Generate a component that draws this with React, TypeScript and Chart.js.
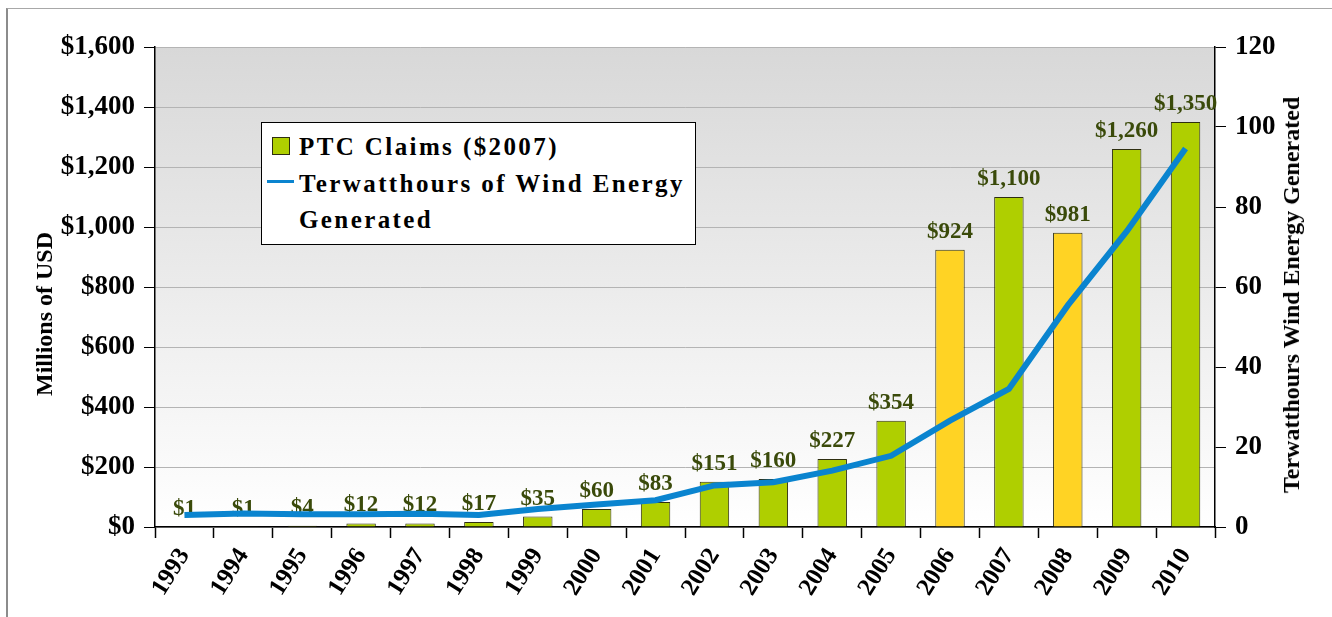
import React, { useEffect, useRef } from "react";
import { Chart, registerables } from "chart.js";

Chart.register(...registerables);

// ---------- data ----------
const years = [
  "1993", "1994", "1995", "1996", "1997", "1998", "1999", "2000", "2001",
  "2002", "2003", "2004", "2005", "2006", "2007", "2008", "2009", "2010",
];
const ptcClaims = [1, 1, 4, 12, 12, 17, 35, 60, 83, 151, 160, 227, 354, 924, 1100, 981, 1260, 1350];
const windTWh = [3.0, 3.4, 3.2, 3.2, 3.3, 3.0, 4.5, 5.6, 6.7, 10.4, 11.2, 14.1, 17.8, 26.6, 34.5, 55.4, 73.9, 94.6];
const highlightYears = ["2006", "2008"];

const barLabel = "PTC Claims ($2007)";
const lineLabel = "Terwatthours of Wind Energy Generated";
const leftTitle = "Millions of USD";
const rightTitle = "Terwatthours Wind Energy Generated";

const leftMax = 1600;
const leftStep = 200;
const rightMax = 120;
const rightStep = 20;

// ---------- styles ----------
const FONT = '"Liberation Serif", "Times New Roman", serif';
const GREEN = "#afcf00";
const YELLOW = "#ffd324";
const BLUE = "#0a84cf";
const LABEL_COLOR = "#3a4a0a";

const fmtUSD = (v: number) => "$" + Number(v).toLocaleString("en-US");

export default function App() {
  const canvasRef = useRef<HTMLCanvasElement | null>(null);

  useEffect(() => {
    const canvas = canvasRef.current;
    if (!canvas) return;

    const bgPlugin = {
      id: "plotBg",
      beforeDraw(chart: any) {
        const { ctx, chartArea } = chart;
        if (!chartArea) return;
        const g = ctx.createLinearGradient(0, chartArea.top, 0, chartArea.bottom);
        g.addColorStop(0, "#d8d8d8");
        g.addColorStop(1, "#ffffff");
        ctx.save();
        ctx.fillStyle = g;
        ctx.fillRect(chartArea.left, chartArea.top, chartArea.right - chartArea.left, chartArea.bottom - chartArea.top);
        ctx.restore();
      },
    };

    const labelPlugin = {
      id: "barLabels",
      afterDatasetDraw(chart: any, args: any) {
        if (args.index !== 1) return;
        const { ctx } = chart;
        const meta = chart.getDatasetMeta(1);
        ctx.save();
        ctx.font = `bold 23px ${FONT}`;
        ctx.fillStyle = LABEL_COLOR;
        ctx.textAlign = "center";
        ctx.textBaseline = "alphabetic";
        meta.data.forEach((el: any, i: number) => {
          ctx.fillText(fmtUSD(ptcClaims[i]), el.x, el.y - 12);
        });
        ctx.restore();
      },
    };

    const tickFont = { family: FONT, size: 27, weight: "bold" as const };

    const chart = new Chart(canvas, {
      type: "bar",
      data: {
        labels: years,
        datasets: [
          {
            type: "line" as const,
            label: lineLabel,
            data: windTWh,
            yAxisID: "y1",
            borderColor: BLUE,
            backgroundColor: BLUE,
            borderWidth: 6,
            pointRadius: 0,
            tension: 0,
            order: 0,
          },
          {
            type: "bar" as const,
            label: barLabel,
            data: ptcClaims,
            yAxisID: "y",
            backgroundColor: years.map((y) => (highlightYears.includes(y) ? YELLOW : GREEN)),
            borderColor: "#2e2e10",
            borderWidth: 1,
            barPercentage: 0.5,
            categoryPercentage: 1,
            order: 1,
          },
        ],
      },
      options: {
        responsive: false,
        animation: false,
        layout: { padding: { top: 47, left: 0, right: 0, bottom: 0 } },
        plugins: {
          legend: { display: false },
          tooltip: { enabled: false },
        },
        scales: {
          x: {
            grid: {
              offset: true,
              drawOnChartArea: false,
              tickLength: 11,
              tickColor: "#000",
              tickWidth: 1.5,
            },
            border: { color: "#000", width: 1.5 },
            ticks: {
              color: "#000",
              font: { family: FONT, size: 25, weight: "bold" },
              minRotation: 58,
              maxRotation: 58,
              autoSkip: false,
              padding: 5,
            },
            afterFit: (s: any) => {
              s.height = 90;
            },
          },
          y: {
            position: "left",
            min: 0,
            max: leftMax,
            ticks: {
              stepSize: leftStep,
              color: "#000",
              font: tickFont,
              padding: 9,
              callback: (v: any) => fmtUSD(v),
            },
            grid: { color: "#b4b4b4", tickColor: "#000", tickLength: 11, lineWidth: 1 },
            border: { color: "#000", width: 1.5 },
            afterFit: (s: any) => {
              s.width = 155;
            },
          },
          y1: {
            position: "right",
            min: 0,
            max: rightMax,
            ticks: {
              stepSize: rightStep,
              color: "#000",
              font: tickFont,
              padding: 9,
            },
            grid: { drawOnChartArea: false, tickColor: "#000", tickLength: 11 },
            border: { color: "#000", width: 1.5 },
            afterFit: (s: any) => {
              s.width = 117;
            },
          },
        },
      } as any,
      plugins: [bgPlugin, labelPlugin],
    });

    return () => chart.destroy();
  }, []);

  const titleStyle: React.CSSProperties = {
    position: "absolute",
    fontFamily: FONT,
    fontWeight: "bold",
    fontSize: 24,
    whiteSpace: "nowrap",
    color: "#000",
    transform: "translate(-50%, -50%) rotate(-90deg)",
    lineHeight: "26px",
  };

  const legendText: React.CSSProperties = {
    position: "absolute",
    left: 299,
    fontFamily: FONT,
    fontWeight: "bold",
    fontSize: 25,
    letterSpacing: "2.4px",
    color: "#000",
  };

  return (
    <div
      style={{
        position: "fixed",
        left: 0,
        top: 0,
        width: 1332,
        height: 617,
        background: "#fff",
        overflow: "hidden",
      }}
    >
      <div
        style={{
          position: "absolute",
          left: 6,
          top: 8,
          width: 1400,
          height: 700,
          borderLeft: "2px solid #8c8c8c",
          borderTop: "1px solid #a8a8a8",
        }}
      />
      <canvas
        ref={canvasRef}
        width={1332}
        height={617}
        style={{ position: "absolute", left: 0, top: 0, width: 1332, height: 617, display: "block" }}
      />
      <div style={{ ...titleStyle, left: 44, top: 314 }}>{leftTitle}</div>
      <div style={{ ...titleStyle, left: 1291, top: 295 }}>{rightTitle}</div>

      <div
        style={{
          position: "absolute",
          left: 261,
          top: 122,
          width: 435,
          height: 123,
          background: "#fff",
          border: "1px solid #000",
          boxSizing: "border-box",
        }}
      />
      <div
        style={{
          position: "absolute",
          left: 272,
          top: 137,
          width: 18,
          height: 18,
          background: GREEN,
          border: "1px solid #2e2e10",
          boxSizing: "border-box",
        }}
      />
      <div style={{ ...legendText, top: 134, lineHeight: "25px" }}>{barLabel}</div>
      <div
        style={{
          position: "absolute",
          left: 267,
          top: 180,
          width: 27,
          height: 3,
          background: BLUE,
        }}
      />
      <div style={{ ...legendText, top: 165.5, lineHeight: "36px", width: 395 }}>{lineLabel}</div>
    </div>
  );
}
